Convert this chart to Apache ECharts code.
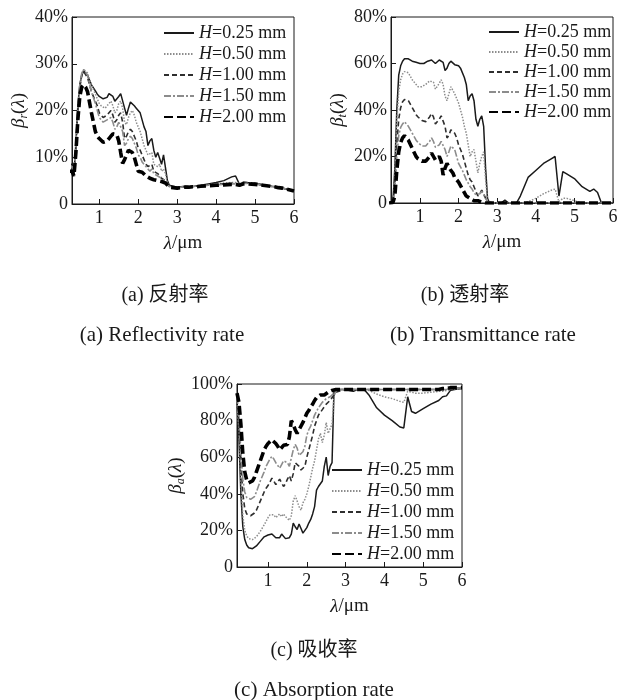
<!DOCTYPE html>
<html><head><meta charset="utf-8">
<script src="https://cdn.jsdelivr.net/npm/echarts@6/dist/echarts.min.js"></script>
<style>html,body{margin:0;padding:0;background:#fff}#c{width:621px;height:700px}</style>
</head><body><div id="c"></div>
<script>
// ---------- data ----------
const wavelength = [0.2,0.25,0.3,0.35,0.4,0.45,0.5,0.55,0.6,0.65,
 0.7,0.8,0.9,0.95,1.0,1.05,1.1,1.15,1.2,1.25,
 1.3,1.35,1.4,1.45,1.5,1.55,1.6,1.65,1.7,1.75,
 1.8,1.85,1.9,1.95,2.0,2.05,2.1,2.15,2.2,2.25,
 2.3,2.35,2.4,2.45,2.5,2.55,2.6,2.65,2.7,2.75,
 2.8,2.9,3.0,3.1,3.2,3.3,3.4,3.5,3.6,3.8,
 4.0,4.2,4.4,4.5,4.6,4.7,4.8,5.0,5.2,5.4,
 5.5,5.6,5.7,5.8,6.0];

const seriesNames = ['H=0.25 mm','H=0.50 mm','H=1.00 mm','H=1.50 mm','H=2.00 mm'];

// (a) reflectivity, %
const reflectH025 = [8.5,8.5,8.5,6.5,13,21,25.5,27.5,28.5,28.3,
 27.5,25.5,24.2,23.5,23.0,22.8,22.5,22.3,22.8,23.6,
 24.0,23.0,22.0,21.8,23.0,23.6,23.2,20.5,19.0,20.5,
 21.8,21.5,21.0,20.5,20.8,19.5,18.0,16.5,15.5,12.5,
 13.5,14.0,11.5,10.0,11.0,11.2,8.5,10.5,10.8,5.0,
 4.0,3.8,3.6,3.7,3.8,3.7,3.7,3.9,4.0,4.3,
 4.6,5.0,5.8,6.0,4.2,4.7,4.6,4.5,4.1,3.8,
 3.7,3.5,3.4,3.2,2.8];
const reflectH050 = [8,8,8,6.5,12,20,25,27.5,28.8,28.8,
 28,25.5,23.5,22.5,21.5,21.0,20.8,20.5,21.0,21.5,
 22.0,21.0,19.5,20.0,21.5,22.0,20.5,17.5,17.0,18.5,
 19.5,20.0,19.0,17.5,16.5,15.5,14.0,12.5,11.5,10.5,
 10.5,11.0,8.5,8.5,8.0,8.5,7.0,7.5,6.5,4.5,
 3.8,3.7,3.6,3.6,3.7,3.7,3.8,3.8,3.9,4.1,
 4.3,4.5,4.6,4.6,4.3,4.6,4.6,4.4,4.1,3.8,
 3.7,3.5,3.4,3.2,2.9];
const reflectH100 = [7.5,7.5,7.5,6.5,12,20,25,27.5,28.3,28.0,
 27,24,22,21,19.5,19.0,18.5,18.2,19.0,19.5,
 20.0,19.0,17.5,18.0,19.0,19.5,17.5,14.0,14.5,15.5,
 16.0,15.5,14.5,13.5,12.0,11.5,10.5,9.5,8.5,8.0,
 8.0,8.5,7.0,6.8,6.5,6.5,5.5,5.5,5.0,4.2,
 3.7,3.6,3.5,3.6,3.7,3.7,3.8,3.8,3.9,4.0,
 4.2,4.3,4.4,4.4,4.1,4.5,4.5,4.3,4.0,3.8,
 3.7,3.5,3.4,3.2,2.9];
const reflectH150 = [8,8,8,6.8,12.5,20.5,25.5,28,28.8,28.5,
 27.5,24,21.5,20.0,18.5,18.0,17.5,17.3,18.0,18.3,
 18.5,17.5,16.0,16.5,17.5,17.8,15.5,12.5,13.0,14.0,
 14.5,14.0,13.0,12.0,10.5,10.0,9.0,8.5,8.0,7.5,
 7.0,7.5,6.5,6.2,6.0,6.2,5.5,5.2,4.8,4.2,
 3.7,3.6,3.5,3.6,3.7,3.7,3.8,3.8,3.9,4.0,
 4.1,4.2,4.3,4.3,4.0,4.4,4.4,4.3,4.0,3.8,
 3.7,3.5,3.4,3.2,2.9];
const reflectH200 = [7,7,7,6,11,18,23,25,25.5,25.0,
 24,19.5,15.5,14.5,14.0,13.6,13.2,13.0,13.5,14.0,
 14.5,15.0,15.2,14.8,13.5,11.0,8.7,9.5,10.5,11.5,
 11.5,11.0,10.0,8.5,7.0,6.8,6.8,6.5,6.0,5.8,
 5.5,5.5,5.2,5.0,5.0,5.0,4.8,4.6,4.5,4.2,
 3.6,3.5,3.4,3.5,3.6,3.6,3.7,3.7,3.8,3.9,
 4.0,4.1,4.2,4.2,4.0,4.3,4.3,4.2,4.0,3.8,
 3.7,3.5,3.4,3.2,2.8];

// (b) transmittance, %
const transH025 = [0,0,0.5,15,40,55,59,61,62,62.5,
 62,61,60.5,60,60,60,60,60.5,61,61.5,
 61.5,61,60,60.5,61.5,61.5,60.5,57,58,60,
 61,60.5,59.5,60,59,58,57.5,54,51,44,
 46,47,44,36,33,36,37.5,33,15,2,
 0,0,0,0,1.2,0,0,0,3,11,
 14,17,19,20,3,13.5,12.5,10.5,7,5,
 6,4.5,0,0,0];
const transH050 = [0,0,0.5,12,35,48,53,55.5,56.5,57,
 56,53,51,50,50,50,50.5,51,51.5,52.5,
 53,52,49,49,51.5,53,51,46,44,47,
 50,49.5,47,45,43,40,37,33,30,25,
 20,22,23,18,13,17,20,22,10,1,
 0,0,0,0,0,0,0,0,0,0.5,
 2,4,5.5,6,0.5,2,2,1,0,0,
 0,0,0,0,0];
const transH100 = [0,0,0.3,8,25,36,41,43.5,44.5,45,
 44,41,38,37,36.5,35.5,35,35,35.5,37,
 38.5,37,34,34.5,36,37.5,37,33,28,29,
 31.5,32,30,28,25,23,21,18,15,12,
 10,9,7,5,3,4,5.5,4,2,0.5,
 0,0,0,0,0,0,0,0,0,0,
 0,0,0,0,0,0,0,0,0,0,
 0,0,0,0,0];
const transH150 = [0,0,0.3,6,20,29,32.5,34,35,35,
 33,30,27,26,25.5,24.5,24.2,24.5,25,26.5,
 28,26.5,24,24,25,26.5,27,23,20,22,
 24.5,25,23,20,17,15.5,14,12,10,8.5,
 7,6,4.5,3.5,3,4,5,3.5,2,0.5,
 0,0,0,0,0,0,0,0,0,0,
 0,0,0,0,0,0,0,0,0,0,
 0,0,0,0,0];
const transH200 = [0,0,0.2,3,14,22,26,28,29,28.5,
 27,23.5,20,19,18.5,18,17.8,18,19,20,
 21.5,20,18.5,19,20,18,12,15,17,15.5,
 14,13,11,10,9,7.5,6,4.5,3,2.5,
 2,1.5,1,1.5,1,0.5,0.3,0,0,0,
 0,0,0,0,0,0,0,0,0,0,
 0,0,0,0,0,0,0,0,0,0,
 0,0,0,0,0];

// (c) absorption, %
const absorbH025 = [90,70,40,22,15,12,10.5,10,10,10.5,
 11.5,14,16.5,17,17.5,17.5,18,17,16,15.5,
 16,18,17,15.5,15.5,16,18,24,22,20.5,
 23.5,21,18.5,20,21.5,24,26,29,33,42,
 44,45,47,55,60,50,55,57,96.5,97,
 97,97,97,96.5,96,97,97,96.5,94,87,
 83,80,76.5,76,93,85,84,86.5,89,91,
 93,93.5,96.5,97,97.5];
const absorbH050 = [90,75,48,28,20,17,15.5,15,15,15.5,
 16.5,19.5,23,25,27,28.5,29.5,28.5,27,27.5,
 29,27.5,29,27.5,27,25.5,28,36,39,36,
 33,31,35,37,40,44,49,54,58,64,
 70,73,68,72,79,73,72,78,93,96,
 96.5,97,97,97,97,97,97,97,96.5,94.5,
 93,92,90.5,90,96,95.5,95,95,95.5,96,
 96,96.5,97,97,97.5];
const absorbH100 = [92,80,58,40,32,29,28,28,28.5,29.5,
 31,36,41,43,44.5,46.5,48.5,47,45,45.5,
 48,46,44,45.5,48,50,47,51,57,58,
 55,53,52,55,60,64,68,72,77,80,
 83,84,86,87,89,90,91,92,94,95.5,
 96,96.5,97,97,97,97,97,97,97,97,
 97,97,97,97,97,97,97,97,97,97,
 97,97,97.5,97.5,98];
const absorbH150 = [93,82,64,48,41,38,37,37,37.5,38.5,
 41,47,52,55,57,59,60.5,59,57,56,
 54,56,58,57,57,55,56,64,67,65,
 61,60,63,66,72,75,77,80,83,85,
 87,88,90,91,92,92.5,93,94,95,96,
 96.5,97,97,97,97,97,97,97,97,97,
 97,97,97,97,97,97,97,97,97,97,
 97,97,97.5,97.5,98];
const absorbH200 = [95,90,78,62,52,47.5,46,46,47,49,
 52,58,64,66,67.5,68.5,69.5,69,67.5,66,
 64,65,66.5,66,67,71,80,78,75,73,
 75,76,79,81.5,84,85.5,87.5,89,91,92.5,
 93.5,94,94.5,94,95,95.5,96,96.5,97,97,
 97,97,97,97,97,97,97,97,97,97,
 97,97,97,97,97,97,97,97,97,97,
 97.5,97.5,98,98,98];

const xTickValues = [1,2,3,4,5,6];
const captionsZh = ['(a) 反射率','(b) 透射率','(c) 吸收率'];
const captionsEn = ['(a) Reflectivity rate','(b) Transmittance rate','(c) Absorption rate'];
const ySubscripts = ['r','t','a'];

// ---------- styles / layout ----------
const FONT = "'Liberation Serif','Times New Roman','Noto Sans CJK SC',serif";
const CJK = "'Liberation Serif','Noto Sans CJK SC',serif";
const INK = '#1a1a1a';
const lineStyles = [
  {color:'#1a1a1a', width:1.5, type:'solid'},
  {color:'#8c8c8c', width:1.5, type:[1.5,1.5]},
  {color:'#2e2e2e', width:1.6, type:[5,3]},
  {color:'#8c8c8c', width:1.6, type:[7,2,2,2]},
  {color:'#000000', width:3.6, type:[9,4]}
];
const panels = [
  {grid:{left:72, top:17, width:222, height:187}, xMin:0.3, yMax:40, yInt:10,
   values:[reflectH025,reflectH050,reflectH100,reflectH150,reflectH200], legend:{left:163, top:24}, itemGap:3},
  {grid:{left:391, top:17, width:222, height:186}, xMin:0.25, yMax:80, yInt:20,
   values:[transH025,transH050,transH100,transH150,transH200], legend:{left:488, top:23}, itemGap:2},
  {grid:{left:237, top:384, width:225, height:183}, xMin:0.2, yMax:100, yInt:20,
   values:[absorbH025,absorbH050,absorbH100,absorbH150,absorbH200], legend:{left:331, top:461}, itemGap:3}
];

const grids = [], xAxes = [], yAxes = [], series = [], legends = [];
panels.forEach((p, k) => {
  grids.push(Object.assign({show:true, borderColor:INK, borderWidth:1, backgroundColor:'transparent', containLabel:false, outerBoundsMode:'none'}, p.grid));
  xAxes.push({
    type:'value', gridIndex:k, min:p.xMin, max:6,
    axisLine:{show:true, onZero:false, lineStyle:{color:INK, width:1}},
    axisTick:{show:true, inside:true, length:5, customValues:xTickValues, lineStyle:{color:INK}},
    axisLabel:{show:true, customValues:xTickValues, color:INK, fontFamily:FONT, fontSize:18, margin:5},
    splitLine:{show:false},
    name:'{i|λ}{n|/μm}', nameLocation:'middle', nameGap:30,
    nameTextStyle:{color:INK, fontFamily:FONT, fontSize:19,
      rich:{i:{fontFamily:FONT, fontSize:19, fontStyle:'italic', color:INK}, n:{fontFamily:FONT, fontSize:19, color:INK}}}
  });
  yAxes.push({
    type:'value', gridIndex:k, min:0, max:p.yMax, interval:p.yInt,
    axisLine:{show:true, onZero:false, lineStyle:{color:INK, width:1}},
    axisTick:{show:true, inside:true, length:5, lineStyle:{color:INK}},
    axisLabel:{color:INK, fontFamily:FONT, fontSize:18, margin:4,
      formatter: v => v === 0 ? '0' : v + '%'},
    splitLine:{show:false},
    name:'{i|β}{s|' + ySubscripts[k] + '}{n|(}{i|λ}{n|)}', nameLocation:'middle', nameGap:42, nameRotate:90,
    nameTextStyle:{color:INK, fontFamily:FONT, fontSize:19,
      rich:{
        i:{fontFamily:FONT, fontSize:19, fontStyle:'italic', color:INK, lineHeight:22},
        n:{fontFamily:FONT, fontSize:19, color:INK, lineHeight:22},
        s:{fontFamily:FONT, fontSize:12, fontStyle:'italic', color:INK, lineHeight:12, verticalAlign:'bottom'}
      }}
  });
  p.values.forEach((vals, j) => {
    series.push({
      type:'line', name:seriesNames[j], xAxisIndex:k, yAxisIndex:k,
      data: wavelength.map((w, i) => [w, vals[i]]),
      symbol:'none', showSymbol:false, clip:true, animation:false,
      lineStyle: lineStyles[j], itemStyle:{color:lineStyles[j].color}
    });
  });
  legends.push({
    data: seriesNames.slice(), orient:'vertical', left:p.legend.left, top:p.legend.top,
    itemWidth:30, itemHeight:12, itemGap:p.itemGap, padding:0, selectedMode:false,
    itemStyle:{opacity:0},
    formatter: n => '{i|H}{n|' + n.slice(1) + '}',
    textStyle:{color:INK, fontFamily:FONT, fontSize:18,
      rich:{i:{fontFamily:FONT, fontSize:18, fontStyle:'italic', color:INK, lineHeight:18},
            n:{fontFamily:FONT, fontSize:18, color:INK, lineHeight:18}}}
  });
});

const captionPos = [
  {zh:[165,296], en:[162,335]},
  {zh:[465,296], en:[483,335]},
  {zh:[314,651], en:[314,690]}
];
const graphics = [];
captionPos.forEach((c, k) => {
  graphics.push({type:'text', x:c.zh[0], y:c.zh[1], silent:true,
    style:{text:captionsZh[k], font:'20px ' + CJK, fill:INK, align:'center', verticalAlign:'middle', textAlign:'center', textVerticalAlign:'middle'}});
  graphics.push({type:'text', x:c.en[0], y:c.en[1], silent:true,
    style:{text:captionsEn[k], font:'21px ' + FONT, fill:INK, align:'center', verticalAlign:'middle', textAlign:'center', textVerticalAlign:'middle'}});
});

const chart = echarts.init(document.getElementById('c'));
chart.setOption({
  backgroundColor:'#ffffff',
  animation:false,
  grid: grids, xAxis: xAxes, yAxis: yAxes, series: series, legend: legends,
  graphic: graphics
});
</script>
</body></html>
